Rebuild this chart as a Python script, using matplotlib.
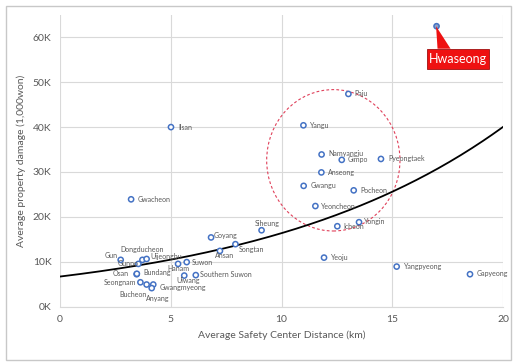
import numpy as np
import matplotlib
matplotlib.use("Agg")
import matplotlib.pyplot as plt
from matplotlib.patches import Ellipse, Polygon, Rectangle
from matplotlib.transforms import ScaledTranslation

plt.rcParams['font.family'] = ['Lato', 'DejaVu Sans']

cities = ["Hwaseong", "Paju", "Yangu", "Namyangju", "Gimpo", "Pyeongtaek", "Anseong",
          "Ilsan", "Gwacheon", "Gwangu", "Pocheon", "Yeoncheon", "Icheon", "Yongin",
          "Siheung", "Yeoju", "Yangpyeong", "Gapyeong", "Goyang", "Songtan", "Ansan",
          "Gun", "Dongducheon", "Uijeongbu", "Gunpo", "Osan", "Bundang", "Hanam",
          "Suwon", "Uiwang", "Southern Suwon", "Seongnam", "Bucheon", "Gwangmyeong",
          "Anyang"]
distance_km = [17.0, 13.02, 10.99, 11.81, 12.72, 14.49, 11.80,
               5.01, 3.21, 11.0, 13.26, 11.53, 12.52, 13.5,
               9.1, 11.92, 15.2, 18.51, 6.82, 7.92, 7.22,
               2.74, 3.72, 3.91, 3.54, 3.46, 3.47, 5.33,
               5.72, 5.61, 6.13, 3.63, 3.91, 4.21,
               4.14]
damage = [62500, 47400, 40400, 33900, 32700, 32900, 29900,
          40000, 23900, 26900, 25900, 22400, 17900, 18800,
          17000, 10900, 8900, 7200, 15400, 13900, 12400,
          10400, 10400, 10600, 9500, 7200, 7300, 9500,
          9900, 6900, 7000, 5400, 4900, 4900,
          4100]

x_ticks = [0, 5, 10, 15, 20]
y_ticks = [0, 10000, 20000, 30000, 40000, 50000, 60000]
y_ticklabels = ["0K", "10K", "20K", "30K", "40K", "50K", "60K"]

# label offsets in pixels (dx, dy up), ha
label_pos = {
    "Paju": (6, 0, 'left'), "Yangu": (7, 0, 'left'), "Namyangju": (7, 1, 'left'),
    "Gimpo": (6, 0, 'left'), "Pyeongtaek": (7, 0, 'left'), "Anseong": (7, 0, 'left'),
    "Ilsan": (7, 0, 'left'), "Gwacheon": (7, 0, 'left'), "Gwangu": (7, 0, 'left'),
    "Pocheon": (7, 0, 'left'), "Yeoncheon": (6, 0, 'left'), "Icheon": (6, 0, 'left'),
    "Yongin": (5, 1, 'left'), "Siheung": (6, 7, 'center'), "Yeoju": (7, 0, 'left'),
    "Yangpyeong": (7, 0, 'left'), "Gapyeong": (7, 1, 'left'), "Goyang": (3, 2, 'left'),
    "Songtan": (3, -5, 'left'), "Ansan": (5, -5, 'center'), "Gun": (-3, 4, 'right'),
    "Dongducheon": (0, 10, 'center'), "Uijeongbu": (4, 2, 'left'), "Gunpo": (0, 0, 'right'),
    "Osan": (-8, 1, 'right'), "Bundang": (7, 1, 'left'), "Hanam": (0, -5, 'center'),
    "Suwon": (5, 0, 'left'), "Uiwang": (4, -5, 'center'), "Southern Suwon": (4, 1, 'left'),
    "Seongnam": (-4, 0, 'right'), "Bucheon": (-14, -10, 'center'), "Gwangmyeong": (6, -3, 'left'),
    "Anyang": (6, -10, 'center'),
}

fig = plt.figure(figsize=(5.21, 3.64), dpi=100)
fig.patches.append(Rectangle((6/521, 4/364), 505/521, 354/364, transform=fig.transFigure,
                             fill=False, ec='#C8C8C8', lw=1.0))
ax = fig.add_axes([60/521, 1 - 306.5/364, 443/521, 291.5/364])
ax.set_xlim(0, 20)
ax.set_ylim(0, 65000)

x = np.array(distance_km)
y = np.array(damage)

# exponential trendline fit (ln y = ln a + b x)
b, lna = np.polyfit(x, np.log(y), 1)
xs = np.linspace(0, 20, 200)
ax.plot(xs, np.exp(lna) * np.exp(b * xs), color='black', lw=1.3, zorder=3)

face = ['#8FA3C8' if c == "Hwaseong" else 'white' for c in cities]
ax.scatter(x, y, s=14, facecolors=face, edgecolors='#4472C4', linewidths=1.1, zorder=4)

for c, xi, yi in zip(cities, x, y):
    if c not in label_pos:
        continue
    dx, dy, ha = label_pos[c]
    ax.annotate(c, (xi, yi), xytext=(dx * 0.72, dy * 0.72), textcoords='offset points',
                fontsize=5.0, color='#595959', ha=ha, va='center', zorder=5)

ax.set_xticks(x_ticks)
ax.set_yticks(y_ticks)
ax.set_yticklabels(y_ticklabels)
ax.grid(True, color='#D9D9D9', lw=0.8)
ax.set_axisbelow(True)
for s in ['top', 'right', 'left']:
    ax.spines[s].set_visible(False)
ax.spines['bottom'].set_color('#D9D9D9')
ax.tick_params(length=0, labelsize=7.5, labelcolor='#595959', pad=6)
ax.set_xlabel("Average Safety Center Distance (km)", fontsize=7.5, color='#595959', labelpad=5)
ax.set_ylabel("Average property damage (1,000won)", fontsize=7.5, color='#595959', labelpad=5)

# dashed red circle
ell = Ellipse((12.34, 32600), 133.3 / 22.15, 141.4 / 4.485 * 1000, fill=False,
              ec='#E0405A', lw=0.8, ls=(0, (2.5, 2)), zorder=2)
ax.add_patch(ell)

# Hwaseong callout
hi = cities.index("Hwaseong")
tr = fig.dpi_scale_trans + ScaledTranslation(x[hi], y[hi], ax.transData)
ax.add_patch(Polygon([(-0.005, 0), (0.01, -0.225), (0.14, -0.225)], closed=True,
                     transform=tr, fc='#EE1111', ec='none', zorder=6, clip_on=False))
ax.add_patch(Rectangle((-0.10, -0.43), 0.625, 0.205, transform=tr, fc='#EE1111',
                       ec='#A01010', lw=0.6, zorder=6, clip_on=False))
ax.text(0.2125, -0.33, "Hwaseong", transform=tr, color='white', fontsize=9,
        ha='center', va='center', zorder=7)

fig.savefig("out.png", dpi=100)
